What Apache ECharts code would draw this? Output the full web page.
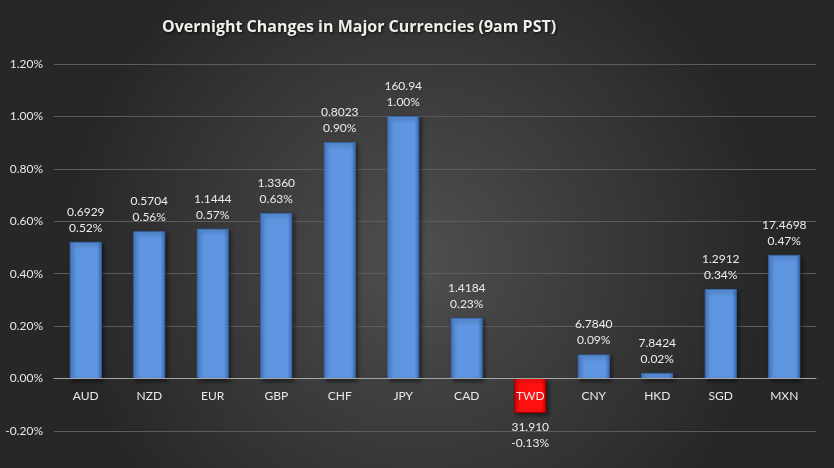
<!DOCTYPE html>
<html lang="en">
<head>
    <meta charset="UTF-8">
    <title>Overnight Changes in Major Currencies</title>
    <script src="https://cdn.jsdelivr.net/npm/echarts@6/dist/echarts.min.js"></script>
    <style>
        html, body { margin: 0; padding: 0; background: #333; }
        #chartmain { width: 834px; height: 468px; }
    </style>
</head>
<body>
<div id="chartmain"></div>
<script>
    // currencies, % change and spot rate (as shown)
    var currencies = ['AUD', 'NZD', 'EUR', 'GBP', 'CHF', 'JPY', 'CAD', 'TWD', 'CNY', 'HKD', 'SGD', 'MXN'];
    var changes = [0.52, 0.56, 0.57, 0.63, 0.90, 1.00, 0.23, -0.13, 0.09, 0.02, 0.34, 0.47];
    var rates = ['0.6929', '0.5704', '1.1444', '1.3360', '0.8023', '160.94', '1.4184', '31.910', '6.7840', '7.8424', '1.2912', '17.4698'];

    var blueBar = {
        type: 'linear', x: 0, y: 0, x2: 1, y2: 0,
        colorStops: [
            {offset: 0, color: '#4a7fcc'},
            {offset: 0.15, color: '#5e96e2'},
            {offset: 0.85, color: '#5e96e2'},
            {offset: 1, color: '#3f6fb5'}
        ]
    };
    var redBar = {
        type: 'linear', x: 0, y: 0, x2: 1, y2: 0,
        colorStops: [
            {offset: 0, color: '#e00000'},
            {offset: 0.15, color: '#ff1010'},
            {offset: 0.85, color: '#ff1010'},
            {offset: 1, color: '#c80000'}
        ]
    };

    var barData = changes.map(function (v, i) {
        return {
            value: v,
            itemStyle: {color: v < 0 ? redBar : blueBar, borderColor: v < 0 ? '#a00000' : '#3a66a8'},
            label: {position: v < 0 ? 'bottom' : 'top'}
        };
    });

    var myChart = echarts.init(document.getElementById('chartmain'));
    myChart.setOption({
        backgroundColor: {
            type: 'radial', x: 0.5, y: 0.55, r: 0.75,
            colorStops: [
                {offset: 0, color: '#4f4f4f'},
                {offset: 1, color: '#272727'}
            ]
        },
        animation: false,
        title: {
            text: 'Overnight Changes in Major Currencies (9am PST)',
            left: 157,
            top: 14,
            textStyle: {
                color: '#f0f0ea', fontSize: 16, fontWeight: 'bold', fontFamily: 'Open Sans',
                textShadowColor: 'rgba(0,0,0,0.8)', textShadowBlur: 3, textShadowOffsetX: 1, textShadowOffsetY: 1
            }
        },
        grid: {left: 54, right: 18, top: 64, bottom: 37},
        xAxis: {
            type: 'category',
            data: currencies,
            offset: -53,   // sit on the 0% line
            axisLine: {onZero: false, lineStyle: {color: '#a6a6a6', width: 1}},
            axisTick: {show: false},
            axisLabel: {color: '#e8e8e8', fontSize: 12, fontFamily: 'Lato', margin: 12},
            z: 5
        },
        yAxis: {
            type: 'value',
            min: -0.2, max: 1.2, interval: 0.2,
            axisLine: {show: false},
            axisTick: {show: false},
            splitLine: {lineStyle: {color: '#5c5c5c', width: 1}},
            axisLabel: {
                color: '#e8e8e8', fontSize: 12, fontFamily: 'Lato', margin: 11,
                formatter: function (v) { return v.toFixed(2) + '%'; }
            }
        },
        series: [{
            type: 'bar',
            data: barData,
            barWidth: '49%',
            z: 2,
            itemStyle: {shadowColor: 'rgba(0,0,0,0.5)', shadowBlur: 4, shadowOffsetX: 2, shadowOffsetY: 2},
            label: {
                show: true,
                distance: 6,
                color: '#ececec',
                fontSize: 12,
                fontFamily: 'Lato',
                lineHeight: 16,
                formatter: function (p) {
                    return rates[p.dataIndex] + '\n' + changes[p.dataIndex].toFixed(2) + '%';
                }
            }
        }]
    });
</script>
</body>
</html>
